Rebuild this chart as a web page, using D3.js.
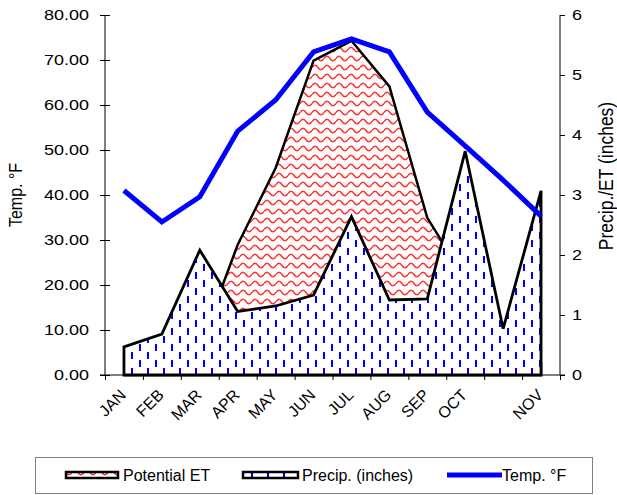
<!DOCTYPE html>
<html>
<head>
<meta charset="utf-8">
<script src="https://cdn.jsdelivr.net/npm/d3@7"></script>
<style>
  html, body { margin: 0; padding: 0; background: #fff; }
  svg { display: block; font-family: "Liberation Sans", Arial, sans-serif; }
</style>
</head>
<body>
<svg id="chart" width="617" height="495"></svg>
<script>
// ---- data ----
const categories = ["JAN","FEB","MAR","APR","MAY","JUN","JUL","AUG","SEP","OCT","","NOV"];
const tempF      = [41.0, 34.0, 39.6, 54.2, 61.1, 71.8, 74.7, 71.8, 58.4, 50.9, 43.3, 35.3];
const precipIn   = [0.47, 0.68, 2.08, 1.06, 1.15, 1.33, 2.64, 1.25, 1.27, 3.73, 0.77, 3.07];
const petIn      = [0.00, 0.00, 0.48, 2.17, 3.45, 5.24, 5.57, 4.81, 2.62, 1.60, 0.50, 0.20];
const tempTicks  = [0, 10, 20, 30, 40, 50, 60, 70, 80];
const inchTicks  = [0, 1, 2, 3, 4, 5, 6];
const seriesNames = ["Potential ET", "Precip. (inches)", "Temp. °F"];

// ---- layout ----
const FONT = '"Liberation Sans", Arial, sans-serif';
const svg = d3.select("#chart");
const L = 105, R = 560, T = 15, B = 375;
const SX = 1.2;

const xBand = d3.scaleBand().domain(d3.range(categories.length)).range([L, R]).padding(0);
const xc = i => xBand(i) + xBand.bandwidth() / 2;
const xTick = d3.scaleLinear().domain([0, categories.length]).range([L, R]);
const yT = d3.scaleLinear().domain([0, 80]).range([B, T]);
const yP = d3.scaleLinear().domain([0, 6]).range([B, T]);

// ---- patterns ----
const defs = svg.append("defs");
const pw = defs.append("pattern").attr("id", "wave").attr("patternUnits", "userSpaceOnUse")
  .attr("width", 12).attr("height", 9);
pw.append("rect").attr("width", 12).attr("height", 9).attr("fill", "#fff");
pw.append("path").attr("d", "M0,4.5 C2,1.5 4,1.5 6,4.5 S10,7.5 12,4.5")
  .attr("fill", "none").attr("stroke", "#ff3030").attr("stroke-width", 1.5);

const pd = defs.append("pattern").attr("id", "dash").attr("patternUnits", "userSpaceOnUse")
  .attr("width", 16).attr("height", 16);
pd.append("rect").attr("width", 16).attr("height", 16).attr("fill", "#fff");
pd.append("rect").attr("x", 3).attr("y", 0).attr("width", 2).attr("height", 7).attr("fill", "#0000ff");
pd.append("rect").attr("x", 11).attr("y", 8).attr("width", 2).attr("height", 7).attr("fill", "#0000ff");

// ---- areas ----
const area = d3.area().x((d, i) => xc(i)).y0(yP(0)).y1(d => yP(d));
svg.append("path").datum(petIn).attr("d", area)
  .attr("fill", "url(#wave)").attr("stroke", "#000").attr("stroke-width", 2.5);
svg.append("path").datum(precipIn).attr("d", area)
  .attr("fill", "url(#dash)").attr("stroke", "#000").attr("stroke-width", 2.8);

// ---- axes ----
const fs = "15px";
const gl = svg.append("g").attr("transform", `translate(${L},0)`)
  .call(d3.axisLeft(yT).tickValues(tempTicks).tickFormat(d3.format(".2f")).tickSize(5).tickPadding(0))
  .attr("font-family", FONT);
gl.selectAll(".tick line").attr("x1", 5);
gl.selectAll(".tick text").attr("font-size", fs).attr("fill", "#000")
  .attr("x", -16 / SX).attr("transform", `scale(${SX},1)`);
gl.select(".domain").attr("d", `M0,${T}V${B}`);

const gr = svg.append("g").attr("transform", `translate(${R},0)`)
  .call(d3.axisRight(yP).tickValues(inchTicks).tickFormat(d3.format("d")).tickSize(5))
  .attr("font-family", FONT);
gr.selectAll(".tick text").attr("font-size", fs).attr("fill", "#000")
  .attr("x", 12 / SX).attr("transform", `scale(${SX},1)`);
gr.select(".domain").attr("d", `M0,${T}V${B}`);

const gb = svg.append("g").attr("transform", `translate(0,${B})`)
  .call(d3.axisBottom(xTick).tickValues(d3.range(categories.length + 1)).tickFormat("").tickSize(5));
gb.select(".domain").attr("d", `M${L - 5},0H${R + 5}`);

svg.append("g").selectAll("text").data(categories).join("text")
  .attr("transform", (d, i) => `translate(${xc(i) + 3},396) rotate(-45)`)
  .attr("text-anchor", "end").attr("font-size", "16px").attr("fill", "#000")
  .text(d => d);

// ---- temperature line ----
const line = d3.line().x((d, i) => xc(i)).y(d => yT(d));
svg.append("path").datum(tempF).attr("d", line)
  .attr("fill", "none").attr("stroke", "#0000ff").attr("stroke-width", 5);

// ---- axis titles ----
svg.append("text").attr("transform", `translate(22,195) scale(${SX},1) rotate(-90)`)
  .attr("text-anchor", "middle").attr("font-size", "16px").attr("fill", "#000").text("Temp. °F");
svg.append("text").attr("transform", `translate(613,176) scale(${SX},1) rotate(-90)`)
  .attr("text-anchor", "middle").attr("font-size", "17.5px").attr("fill", "#000").text("Precip./ET (inches)");

// ---- legend ----
const lg = svg.append("g");
lg.append("rect").attr("x", 35.5).attr("y", 457.5).attr("width", 557).attr("height", 36)
  .attr("fill", "#fff").attr("stroke", "#808080").attr("stroke-width", 1);
const legendItems = [
  { name: seriesNames[0], type: "area", fill: "url(#wave)", x0: 66, x1: 118, tx: 123 },
  { name: seriesNames[1], type: "area", fill: "url(#dash)", x0: 243, x1: 298, tx: 302 },
  { name: seriesNames[2], type: "line", x0: 447, x1: 502, tx: 502 }
];
legendItems.forEach(it => {
  if (it.type === "area") {
    lg.append("rect").attr("x", it.x0).attr("y", 472).attr("width", it.x1 - it.x0).attr("height", 6)
      .attr("fill", it.fill).attr("stroke", "#000").attr("stroke-width", 2.5);
  } else {
    lg.append("line").attr("x1", it.x0).attr("x2", it.x1).attr("y1", 475).attr("y2", 475)
      .attr("stroke", "#0000ff").attr("stroke-width", 5);
  }
  lg.append("text").attr("x", it.tx).attr("y", 480.5)
    .attr("font-size", "16px").attr("fill", "#000").text(it.name);
});
</script>
</body>
</html>
